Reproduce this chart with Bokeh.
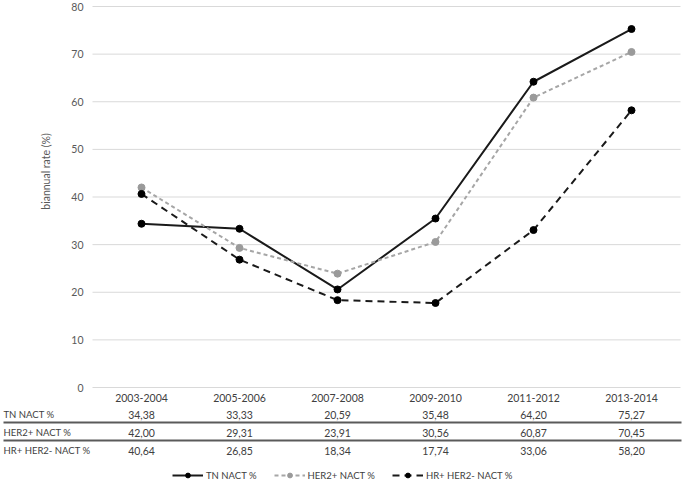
import math
from bokeh.plotting import figure
from bokeh.models import Legend, LegendItem, Range1d
from bokeh.core.properties import value
from bokeh.embed import file_html
from bokeh.resources import INLINE

# ---------------- data ----------------
periods = ["2003-2004", "2005-2006", "2007-2008", "2009-2010", "2011-2012", "2013-2014"]
series_names = ["TN NACT %", "HER2+ NACT %", "HR+ HER2- NACT %"]
tn_nact = [34.38, 33.33, 20.59, 35.48, 64.20, 75.27]
her2_nact = [42.00, 29.31, 23.91, 30.56, 60.87, 70.45]
hr_her2_nact = [40.64, 26.85, 18.34, 17.74, 33.06, 58.20]
y_ticks = [0, 10, 20, 30, 40, 50, 60, 70, 80]
y_tick_labels = ["0", "10", "20", "30", "40", "50", "60", "70", "80"]
y_title = "biannual rate (%)"

# ---------------- layout (pixel geometry) ----------------
W, H = 685, 483
CAT0_PX = 141      # centre of first category
CAT_STEP_PX = 98   # spacing of categories
Y80_PX, Y0_PX = 6, 387

ppu = (Y0_PX - Y80_PX) / 80.0
x_start = (0 - CAT0_PX) / CAT_STEP_PX
x_end = (W - CAT0_PX) / CAT_STEP_PX
y_end = 80 + Y80_PX / ppu
y_start = -(H - Y0_PX) / ppu


def x_of(px):
    return (px - CAT0_PX) / CAT_STEP_PX


def y_of(py):
    return (Y0_PX - py) / ppu


FONT_NAME = "Lato"
FONT = value(FONT_NAME)
FS = "10.5px"
FS_LABEL = "9.5px"
TXT = "#404040"

p = figure(width=W, height=H, output_backend="svg", toolbar_location=None,
           x_axis_type=None, y_axis_type=None,
           x_range=Range1d(x_start, x_end), y_range=Range1d(y_start, y_end),
           min_border=0, min_border_left=0, min_border_right=0,
           min_border_top=0, min_border_bottom=0)
p.outline_line_color = None
p.xgrid.visible = False
p.ygrid.visible = False

n = len(periods)
xs = list(range(n))

# gridlines
p.segment(x0=[-0.5] * len(y_ticks), x1=[n - 0.5] * len(y_ticks), y0=y_ticks, y1=y_ticks,
          line_color="#d9d9d9", line_width=1)

# y tick labels
p.text(x=[-0.5] * len(y_ticks), y=y_ticks, text=y_tick_labels, x_offset=-9,
       text_align="right", text_baseline="middle", text_font=FONT,
       text_font_size=FS, text_color="#595959")

# y title
p.text(x=[x_of(45)], y=[y_of(171)], text=[y_title], angle=math.pi / 2,
       text_align="center", text_baseline="middle", text_font=FONT,
       text_font_size=FS, text_color="#595959")

# series
r_tn_l = p.line(xs, tn_nact, line_color="#1a1a1a", line_width=2)
r_tn_s = p.scatter(xs, tn_nact, size=7, fill_color="#000000", line_color="#000000")
r_h2_l = p.line(xs, her2_nact, line_color="#a6a6a6", line_width=2, line_dash="4 3")
r_h2_s = p.scatter(xs, her2_nact, size=7, fill_color="#9a9a9a", line_color="#9a9a9a")
r_hr_l = p.line(xs, hr_her2_nact, line_color="#1a1a1a", line_width=2, line_dash="7 5")
r_hr_s = p.scatter(xs, hr_her2_nact, size=7, fill_color="#000000", line_color="#000000")

# table: category labels
p.text(x=xs, y=[0] * n, y_offset=10, text=periods, text_align="center",
       text_baseline="middle", text_font=FONT, text_font_size=FS, text_color=TXT)

rows = [tn_nact, her2_nact, hr_her2_nact]
row_offsets = [27, 45, 63]
sep_offsets = [35, 53]
for name, vals, off in zip(series_names, rows, row_offsets):
    p.text(x=xs, y=[0] * n, y_offset=off,
           text=[f"{v:.2f}".replace(".", ",") for v in vals],
           text_align="center", text_baseline="middle", text_font=FONT,
           text_font_size=FS, text_color=TXT)
    p.text(x=[x_start], y=[0], y_offset=off, x_offset=3, text=[name],
           text_align="left", text_baseline="middle", text_font=FONT,
           text_font_size=FS_LABEL, text_color=TXT)

for off in sep_offsets:
    yy = y_of(Y0_PX + off)
    p.segment(x0=[x_of(3)], x1=[x_of(681)], y0=[yy], y1=[yy],
              line_color="#5a5a5a", line_width=2)

# legend
legend = Legend(items=[
    LegendItem(label=series_names[0], renderers=[r_tn_l, r_tn_s]),
    LegendItem(label=series_names[1], renderers=[r_h2_l, r_h2_s]),
    LegendItem(label=series_names[2], renderers=[r_hr_l, r_hr_s]),
], orientation="horizontal", location=(172, 2),
    glyph_width=31, glyph_height=12, label_height=12,
    label_standoff=3, spacing=17, padding=0, margin=0,
    border_line_alpha=0, background_fill_alpha=0,
    label_text_font=FONT_NAME, label_text_font_size=FS_LABEL, label_text_color=TXT)
p.add_layout(legend, "center")

open("out.html", "w").write(file_html(p, INLINE))
